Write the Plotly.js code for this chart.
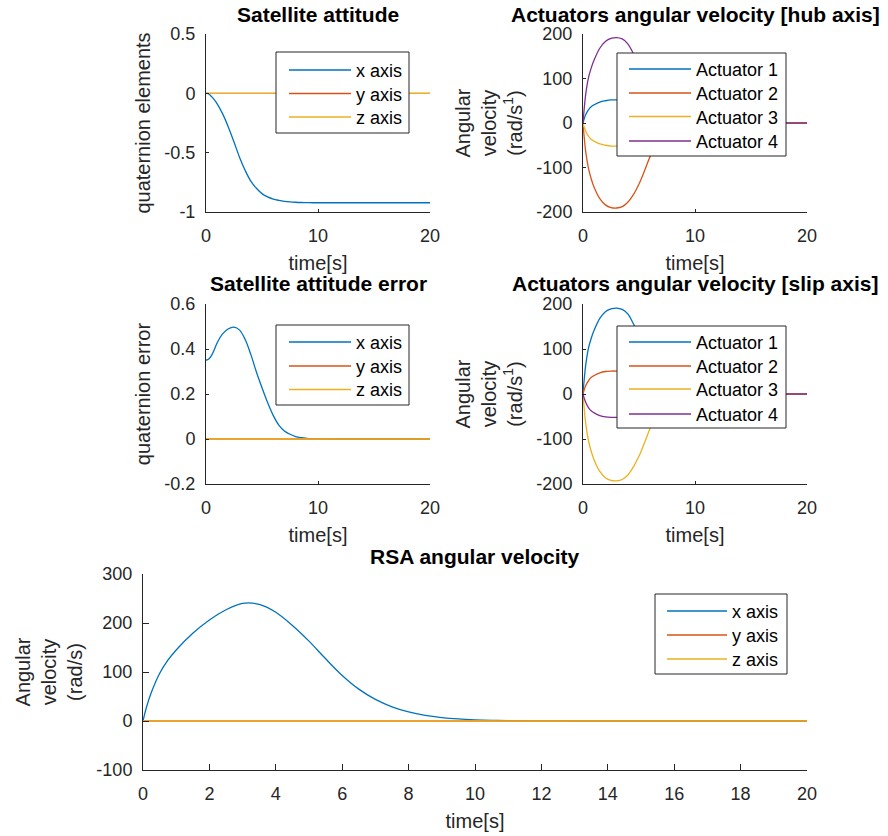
<!DOCTYPE html>
<html>
<head>
<meta charset="utf-8">
<script src="https://cdn.plot.ly/plotly-3.0.1.min.js"></script>
<style>
  html, body { margin: 0; padding: 0; background: #ffffff; }
  #chart { width: 888px; height: 836px; }
</style>
</head>
<body>
<div id="chart"></div>
<script>
// ---------------- data ----------------
const time = [0, 0.1, 0.25, 0.5, 0.75, 1, 1.5, 2, 2.5, 3, 3.5, 4, 4.5, 5, 5.5, 6, 6.5, 7, 7.5, 8, 8.5, 9, 9.5, 10, 10.5, 11, 12, 13, 14, 16, 18, 20];

// Satellite attitude (quaternion elements)
const attX = [0, -0.001, -0.006, -0.028, -0.055, -0.088, -0.175, -0.285, -0.41, -0.54, -0.65, -0.74, -0.80, -0.845, -0.873, -0.891, -0.902, -0.91, -0.915, -0.918, -0.92, -0.921, -0.922, -0.922, -0.922, -0.922, -0.922, -0.922, -0.922, -0.922, -0.922, -0.922];
const attY = [0, 0, 0, 0, 0, 0, 0, 0, 0, 0, 0, 0, 0, 0, 0, 0, 0, 0, 0, 0, 0, 0, 0, 0, 0, 0, 0, 0, 0, 0, 0, 0];
const attZ = [0, 0, 0, 0, 0, 0, 0, 0, 0, 0, 0, 0, 0, 0, 0, 0, 0, 0, 0, 0, 0, 0, 0, 0, 0, 0, 0, 0, 0, 0, 0, 0];

// Satellite attitude error (quaternion error)
const errX = [0.351, 0.352, 0.356, 0.372, 0.398, 0.428, 0.468, 0.490, 0.497, 0.484, 0.442, 0.376, 0.298, 0.228, 0.162, 0.105, 0.062, 0.036, 0.021, 0.011, 0.006, 0.003, 0.0015, 0.0008, 0.0004, 0.0002, 0, 0, 0, 0, 0, 0];
const errY = [0, 0, 0, 0, 0, 0, 0, 0, 0, 0, 0, 0, 0, 0, 0, 0, 0, 0, 0, 0, 0, 0, 0, 0, 0, 0, 0, 0, 0, 0, 0, 0];
const errZ = [0, 0, 0, 0, 0, 0, 0, 0, 0, 0, 0, 0, 0, 0, 0, 0, 0, 0, 0, 0, 0, 0, 0, 0, 0, 0, 0, 0, 0, 0, 0, 0];

// Actuators angular velocity [hub axis]
const hubAct1 = [0, 9, 19, 30, 37, 41, 47, 50, 52, 52, 51, 48, 43, 37, 30, 23, 17, 12, 8, 5, 3, 2, 1.2, 0.7, 0.4, 0.2, 0, 0, 0, 0, 0, 0];
const hubAct2 = [0, -30, -66, -103, -127, -145, -170, -184, -190, -191, -188, -178, -161, -137, -107, -75, -52, -35, -23, -14.5, -9, -5.5, -3.3, -2, -1.1, -0.6, -0.2, 0, 0, 0, 0, 0];
const hubAct3 = [0, -9, -19, -30, -37, -41, -47, -50, -52, -52, -51, -48, -43, -37, -30, -23, -17, -12, -8, -5, -3, -2, -1.2, -0.7, -0.4, -0.2, 0, 0, 0, 0, 0, 0];
const hubAct4 = [0, 30, 66, 103, 125, 142, 168, 183, 190, 192, 189, 178, 156, 130, 102, 73, 51, 35, 23, 14.5, 9, 5.5, 3.3, 2, 1.1, 0.6, 0.2, 0, 0, 0, 0, 0];

// Actuators angular velocity [slip axis]
const slipAct1 = [0, 30, 66, 103, 125, 142, 168, 183, 189, 191, 188, 178, 156, 130, 102, 73, 51, 35, 23, 14.5, 9, 5.5, 3.3, 2, 1.1, 0.6, 0.2, 0, 0, 0, 0, 0];
const slipAct2 = [0, 9, 19, 30, 37, 41, 47, 50, 51, 51, 50, 47, 42, 36, 29, 22, 16, 12, 8, 5, 3, 2, 1.2, 0.7, 0.4, 0.2, 0, 0, 0, 0, 0, 0];
const slipAct3 = [0, -30, -67, -105, -129, -147, -172, -186, -192, -193, -190, -180, -162, -138, -108, -76, -53, -36, -23, -14.5, -9, -5.5, -3.3, -2, -1.1, -0.6, -0.2, 0, 0, 0, 0, 0];
const slipAct4 = [0, -9, -19, -31, -38, -42, -48, -51, -52, -52, -51, -48, -43, -37, -30, -23, -17, -12, -8, -5, -3, -2, -1.2, -0.7, -0.4, -0.2, 0, 0, 0, 0, 0, 0];

// RSA angular velocity
const rsaX = [0, 27, 58, 97, 124, 145, 179, 206, 227, 240, 238, 222, 195, 163, 127, 93, 65, 44, 29, 18.5, 11.5, 7, 4.2, 2.5, 1.4, 0.8, 0.2, 0, 0, 0, 0, 0];
const rsaY = [0, 0, 0, 0, 0, 0, 0, 0, 0, 0, 0, 0, 0, 0, 0, 0, 0, 0, 0, 0, 0, 0, 0, 0, 0, 0, 0, 0, 0, 0, 0, 0];
const rsaZ = [0, 0, 0, 0, 0, 0, 0, 0, 0, 0, 0, 0, 0, 0, 0, 0, 0, 0, 0, 0, 0, 0, 0, 0, 0, 0, 0, 0, 0, 0, 0, 0];

// labels & ticks
const axisNames = ["x axis", "y axis", "z axis"];
const actuatorNames = ["Actuator 1", "Actuator 2", "Actuator 3", "Actuator 4"];
const titles = ["Satellite attitude", "Actuators angular velocity [hub axis]", "Satellite attitude error", "Actuators angular velocity [slip axis]", "RSA angular velocity"];
const xTickSmall = [0, 10, 20];
const xTickSmallText = ["0", "10", "20"];
const xTickBig = [0, 2, 4, 6, 8, 10, 12, 14, 16, 18, 20];
const xTickBigText = ["0", "2", "4", "6", "8", "10", "12", "14", "16", "18", "20"];
const yTick1 = [-1, -0.5, 0, 0.5];
const yTick1Text = ["-1", "-0.5", "0", "0.5"];
const yTick3 = [-0.2, 0, 0.2, 0.4, 0.6];
const yTick3Text = ["-0.2", "0", "0.2", "0.4", "0.6"];
const yTickAct = [-200, -100, 0, 100, 200];
const yTickActText = ["-200", "-100", "0", "100", "200"];
const yTick5 = [-100, 0, 100, 200, 300];
const yTick5Text = ["-100", "0", "100", "200", "300"];

// ---------------- styling ----------------
const colors = ["#0072BD", "#D95319", "#EDB120", "#7E2F8E"];
const FONT = "Liberation Sans, Arial, Helvetica, sans-serif";
const AX = "#262626";
const W = 888, H = 836;
const px = v => v / W;
const py = v => 1 - v / H;

function line(x, y, name, color, xa, ya) {
  return { x: x, y: y, name: name, type: "scatter", mode: "lines",
    line: { color: color, width: 1.3, shape: "spline", smoothing: 1 },
    xaxis: xa, yaxis: ya, showlegend: false, hoverinfo: "skip" };
}

const traces = [
  line(time, attX, axisNames[0], colors[0], "x", "y"),
  line(time, attY, axisNames[1], colors[1], "x", "y"),
  line(time, attZ, axisNames[2], colors[2], "x", "y"),
  line(time, hubAct1, actuatorNames[0], colors[0], "x2", "y2"),
  line(time, hubAct2, actuatorNames[1], colors[1], "x2", "y2"),
  line(time, hubAct3, actuatorNames[2], colors[2], "x2", "y2"),
  line(time, hubAct4, actuatorNames[3], colors[3], "x2", "y2"),
  line(time, errX, axisNames[0], colors[0], "x3", "y3"),
  line(time, errY, axisNames[1], colors[1], "x3", "y3"),
  line(time, errZ, axisNames[2], colors[2], "x3", "y3"),
  line(time, slipAct1, actuatorNames[0], colors[0], "x4", "y4"),
  line(time, slipAct2, actuatorNames[1], colors[1], "x4", "y4"),
  line(time, slipAct3, actuatorNames[2], colors[2], "x4", "y4"),
  line(time, slipAct4, actuatorNames[3], colors[3], "x4", "y4"),
  line(time, rsaX, axisNames[0], colors[0], "x5", "y5"),
  line(time, rsaY, axisNames[1], colors[1], "x5", "y5"),
  line(time, rsaZ, axisNames[2], colors[2], "x5", "y5")
];

function xaxis(domain, anchor, tv, tt, tl) {
  return { domain: domain, anchor: anchor, range: [0, 20], tickvals: tv, ticktext: tt,
    ticks: "inside", ticklen: tl, tickwidth: 1, tickcolor: AX,
    showline: true, linecolor: AX, linewidth: 1, showgrid: false, zeroline: false,
    tickfont: { family: FONT, size: 18, color: AX }, ticklabelstandoff: 7,
    title: { text: "time[s]", font: { family: FONT, size: 20, color: AX }, standoff: 11 },
    fixedrange: true };
}
function yaxis(domain, anchor, range, tv, tt, tl, title) {
  return { domain: domain, anchor: anchor, range: range, tickvals: tv, ticktext: tt,
    ticks: "inside", ticklen: tl, tickwidth: 1, tickcolor: AX,
    showline: true, linecolor: AX, linewidth: 1, showgrid: false, zeroline: false,
    tickfont: { family: FONT, size: 18, color: AX }, ticklabelstandoff: 6,
    title: { text: title, font: { family: FONT, size: 20, color: AX }, standoff: 8 },
    fixedrange: true };
}

const dxL = [px(206), px(430)], dxR = [px(583), px(807)], dxB = [px(143), px(807)];
const dyT = [py(212), py(34)], dyM = [py(484), py(304)], dyB = [py(770), py(574)];
const actLabel = "Angular<br>velocity<br>(rad/s<sup>1</sup>)";

const layout = {
  width: W, height: H,
  margin: { l: 0, r: 0, t: 0, b: 0 },
  paper_bgcolor: "#ffffff", plot_bgcolor: "#ffffff",
  showlegend: false,
  font: { family: FONT, color: AX },
  xaxis: xaxis(dxL, "y", xTickSmall, xTickSmallText, 3),
  yaxis: yaxis(dyT, "x", [-1, 0.5], yTick1, yTick1Text, 3, "quaternion elements"),
  xaxis2: xaxis(dxR, "y2", xTickSmall, xTickSmallText, 3),
  yaxis2: yaxis(dyT, "x2", [-200, 200], yTickAct, yTickActText, 3, actLabel),
  xaxis3: xaxis(dxL, "y3", xTickSmall, xTickSmallText, 3),
  yaxis3: yaxis(dyM, "x3", [-0.2, 0.6], yTick3, yTick3Text, 3, "quaternion error"),
  xaxis4: xaxis(dxR, "y4", xTickSmall, xTickSmallText, 3),
  yaxis4: yaxis(dyM, "x4", [-200, 200], yTickAct, yTickActText, 3, actLabel),
  xaxis5: xaxis(dxB, "y5", xTickBig, xTickBigText, 6),
  yaxis5: yaxis(dyB, "x5", [-100, 300], yTick5, yTick5Text, 6, "Angular<br>velocity<br>(rad/s)"),
  shapes: [],
  annotations: []
};

// subplot titles
const titlePos = [[318, 14], [695, 14], [318, 283], [695, 283], [475, 556]];
titles.forEach((t, i) => {
  layout.annotations.push({ text: "<b>" + t + "</b>", xref: "paper", yref: "paper",
    x: px(titlePos[i][0]), y: py(titlePos[i][1]), xanchor: "center", yanchor: "middle",
    showarrow: false, font: { family: FONT, size: 21, color: "#000000" } });
});

// MATLAB-style legend boxes (opaque, drawn above the curves)
function addLegend(box, names, rows, lineX, textX) {
  layout.shapes.push({ type: "rect", xref: "paper", yref: "paper", layer: "above",
    x0: px(box[0]), x1: px(box[1]), y0: py(box[3]), y1: py(box[2]),
    fillcolor: "#ffffff", line: { color: AX, width: 1 } });
  names.forEach((n, i) => {
    layout.shapes.push({ type: "line", xref: "paper", yref: "paper", layer: "above",
      x0: px(lineX[0]), x1: px(lineX[1]), y0: py(rows[i]), y1: py(rows[i]),
      line: { color: colors[i], width: 1.3 } });
    layout.annotations.push({ text: n, xref: "paper", yref: "paper",
      x: px(textX), y: py(rows[i] + 1), xanchor: "left", yanchor: "middle",
      showarrow: false, font: { family: FONT, size: 18, color: "#000000" } });
  });
}
addLegend([276, 409, 52, 133], axisNames, [70, 93.5, 117], [289, 351], 354);
addLegend([617, 786, 53, 156], actuatorNames, [69, 93, 116.5, 141], [629, 691], 694);
addLegend([276, 409, 325, 405], axisNames, [342, 366, 389.5], [289, 351], 354);
addLegend([617, 786, 326, 428], actuatorNames, [342, 366, 389, 414], [629, 691], 694);
addLegend([655, 787, 594, 674], axisNames, [611, 635, 659], [667, 727], 730);

Plotly.newPlot("chart", traces, layout, { displayModeBar: false, staticPlot: true });
</script>
</body>
</html>
